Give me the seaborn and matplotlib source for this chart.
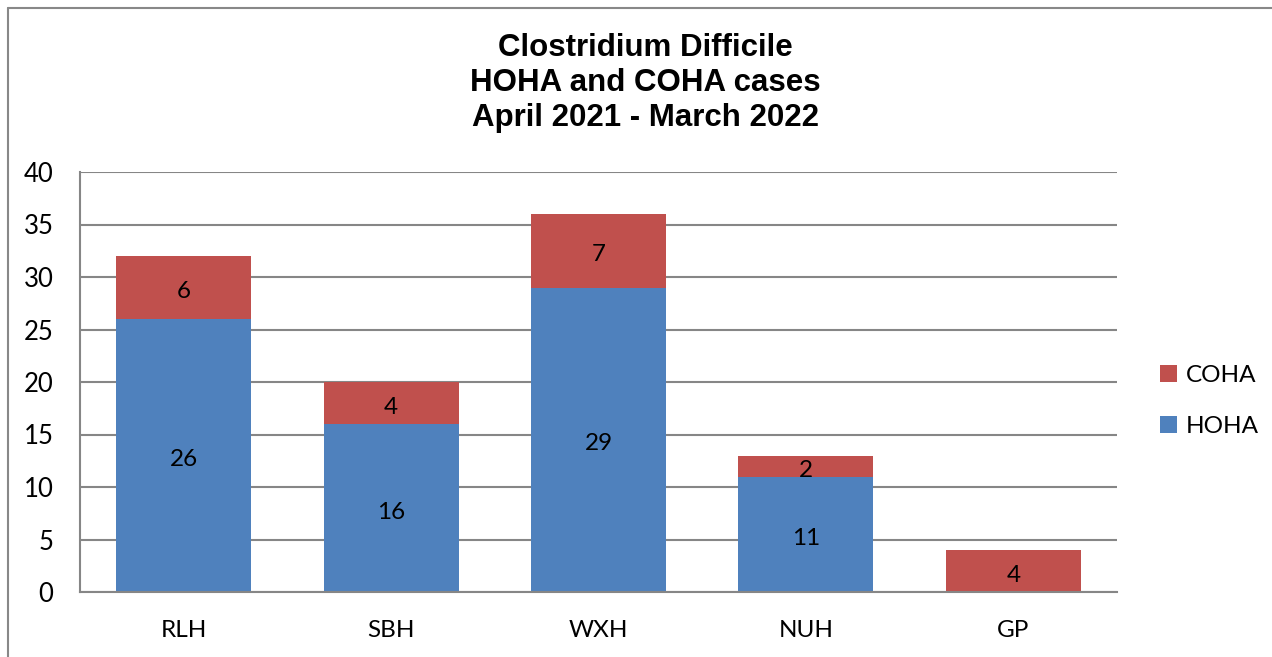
import matplotlib
matplotlib.use("Agg")
import matplotlib.pyplot as plt
from matplotlib.lines import Line2D
from matplotlib.patches import Patch
import seaborn as sns
import pandas as pd

categories = ["RLH", "SBH", "WXH", "NUH", "GP"]
hoha = [26, 16, 29, 11, 0]
coha = [6, 4, 7, 2, 4]
yticks = [0, 5, 10, 15, 20, 25, 30, 35, 40]
title = "Clostridium Difficile\nHOHA and COHA cases\nApril 2021 - March 2022"

BLUE = "#4F81BD"
RED = "#C0504D"
GRID = "#868686"

sns.set_theme(style="white")
plt.rcParams["font.family"] = ["Lato", "DejaVu Sans"]
plt.rcParams["text.color"] = "black"

W, H = 1272, 657
fig = plt.figure(figsize=(W / 100, H / 100), dpi=100)
ax = fig.add_axes([80 / W, 1 - 592 / H, (1117 - 80) / W, (592 - 172) / H])

df = pd.DataFrame({"cat": categories, "HOHA": hoha, "COHA": coha})

sns.barplot(data=df, x="cat", y="HOHA", color=BLUE, width=0.65, ax=ax,
            saturation=1, linewidth=0, order=categories)
sns.barplot(data=df, x="cat", y="COHA", color=RED, width=0.65, ax=ax,
            saturation=1, linewidth=0, order=categories, bottom=df["HOHA"])

# data labels
hoha_labels = [str(v) if v > 0 else "" for v in hoha]
coha_labels = [str(v) if v > 0 else "" for v in coha]
for cont, labs in [(ax.containers[0], hoha_labels), (ax.containers[1], coha_labels)]:
    texts = ax.bar_label(cont, labels=labs, label_type="center",
                         fontsize=17.5, color="black")
    for t in texts:
        t.set_y(t.get_position()[1] - 3)

ax.set_xlim(-0.5, len(categories) - 0.5)
ax.set_ylim(0, 40)
ax.set_yticks(yticks)
ax.set_yticklabels([str(t) for t in yticks])
ax.set_xlabel("")
ax.set_ylabel("")

ax.yaxis.grid(True, color=GRID, linewidth=1.5)
ax.set_axisbelow(True)
for s in ["top", "right"]:
    ax.spines[s].set_visible(False)
for s in ["left", "bottom"]:
    ax.spines[s].set_color(GRID)
    ax.spines[s].set_linewidth(1.5)

# x ticks between categories
ax.set_xticks([i for i in range(len(categories))])
ax.set_xticklabels(categories)
ax.set_xticks([i - 0.5 for i in range(len(categories) + 1)], minor=True)
ax.tick_params(axis="x", which="major", length=0, pad=20, labelsize=17.5, labelcolor="black")
ax.tick_params(axis="x", which="minor", direction="inout", length=14, width=1.5, color=GRID)
ax.tick_params(axis="y", which="major", length=0, pad=19, labelsize=18.5, labelcolor="black")

fig.text(645 / W, 1 - 83 / H, title, ha="center", va="center",
         fontsize=22.5, fontweight="bold", family=["Liberation Sans", "DejaVu Sans"],
         linespacing=1.2, color="black")

handles = [Patch(facecolor=RED, edgecolor="none", label="COHA"),
           Patch(facecolor=BLUE, edgecolor="none", label="HOHA")]
fig.legend(handles=handles, loc="center left",
           bbox_to_anchor=(1138 / W, 1 - 401 / H), frameon=False,
           fontsize=17.5, handlelength=0.7, handleheight=0.7,
           handletextpad=0.35, labelspacing=1.25)

# outer border (left and top)
fig.add_artist(Line2D([7.5 / W, 7.5 / W], [0, 1 - 7.5 / H],
                      transform=fig.transFigure, color="#888888", linewidth=1.5))
fig.add_artist(Line2D([7.5 / W, 1], [1 - 7.5 / H, 1 - 7.5 / H],
                      transform=fig.transFigure, color="#888888", linewidth=1.5))

fig.savefig("out.png", dpi=100)
